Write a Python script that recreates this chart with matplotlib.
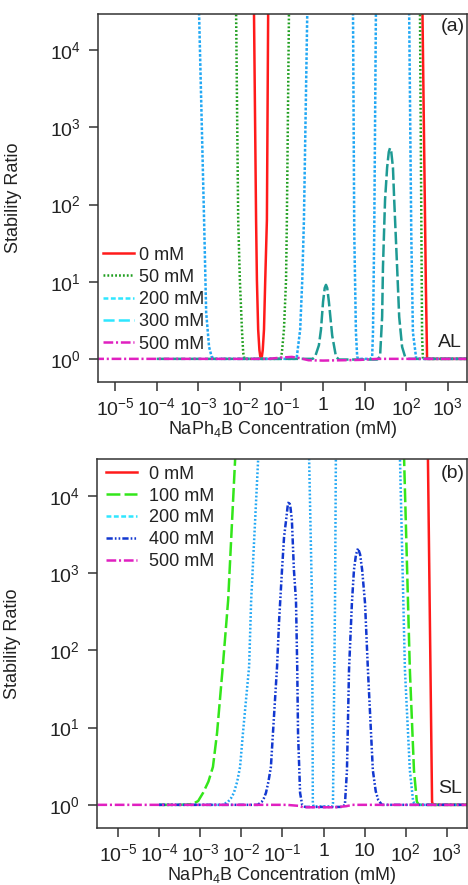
import numpy as np
import matplotlib
matplotlib.use("Agg")
import matplotlib.pyplot as plt
from matplotlib.lines import Line2D

plt.rcParams["font.family"] = ["Liberation Sans", "DejaVu Sans"]
plt.rcParams["mathtext.fontset"] = "custom"
plt.rcParams["mathtext.rm"] = "Liberation Sans"
plt.rcParams["mathtext.it"] = "Liberation Sans:italic"
plt.rcParams["lines.scale_dashes"] = False

# ---- data: log10(concentration, mM) and stability ratio W ----
# panel (a), AL
a_0_logc = [-5.5, -1.69, -1.66, -1.61, -1.59, -1.56, -1.53, -1.51, -1.49, -1.47, -1.45, -1.42, -1.39, -1.35, -1.32, -1.29,
            2.36, 2.39, 2.47, 2.50, 3.5]
a_0_w = [1e6, 1e6, 29500, 63, 10.5, 2.4, 1.3, 1.08, 1.03, 1.08, 1.3, 2.4, 10.5, 63, 29500, 1e6,
         1e6, 29500, 10, 1.0, 1.0]

a_50_logc = [-5.5, -2.12, -2.09, -2.04, -2.0, -1.95, -1.92, -1.89, -1.02, -0.99, -0.94, -0.89, -0.87, -0.82, -0.79,
             2.30, 2.33, 2.38, 2.40, 3.5]
a_50_w = [1e6, 1e6, 29500, 63, 10.5, 2.4, 1.2, 1.0, 1.0, 1.2, 2.4, 10.5, 63, 29500, 1e6,
          1e6, 29500, 2.0, 1.0, 1.0]

a_200_logc = [-5.5, -3.01, -2.98, -2.86, -2.81, -2.74, -2.68, -2.62, -0.66, -0.63, -0.55, -0.50, -0.46, -0.38, -0.35,
              0.70, 0.72, 0.75, 0.79, 0.82, 0.85, 1.15, 1.18, 1.20, 1.23, 1.27, 1.29,
              2.05, 2.07, 2.12, 2.16, 2.24, 3.5]
a_200_w = [1e6, 1e6, 29500, 63, 4.0, 1.43, 1.07, 1.0, 1.0, 1.07, 2.4, 10.5, 63, 29500, 1e6,
           1e6, 29500, 43, 2.2, 1.07, 1.0, 1.0, 1.07, 2.2, 43, 29500, 1e6,
           1e6, 29500, 43, 2.2, 1.0, 1.0]

a_300_logc = [-4.0, -0.25, -0.19, -0.10, -0.05, 0.0, 0.04, 0.07, 0.10, 0.14, 0.18, 0.22, 0.31, 0.38,
              1.30, 1.37, 1.42, 1.44, 1.49, 1.54, 1.58, 1.61, 1.64, 1.68, 1.71, 1.78, 1.83, 1.90, 1.97, 2.05, 3.5]
a_300_w = [1.0, 1.0, 1.07, 1.5, 2.4, 5.5, 8.3, 9.1, 8.3, 5.5, 3.3, 2.0, 1.07, 0.98,
           0.98, 1.07, 3.5, 15.5, 115, 302, 480, 540, 480, 302, 115, 15.5, 3.5, 1.43, 1.07, 1.0, 1.0]

a_500_logc = [-5.5, -1.3, -1.0, -0.75, -0.55, -0.35, 0.0, 0.5, 0.9, 1.3, 3.5]
a_500_w = [1.0, 1.0, 1.04, 1.06, 1.02, 0.96, 0.95, 0.96, 0.97, 1.0, 1.0]

# panel (b), SL
b_0_logc = [-5.5, 2.50, 2.54, 2.64, 2.66, 3.5]
b_0_w = [1e6, 1e6, 30000, 1.1, 1.0, 1.0]

b_100_logc = [-4.0, -3.5, -3.3, -3.18, -3.05, -2.93, -2.80, -2.69, -2.59, -2.45, -2.32, -2.15, -2.05,
              1.90, 1.96, 2.10, 2.20, 2.27, 2.32, 3.5]
b_100_w = [1.0, 1.0, 1.01, 1.03, 1.12, 1.43, 2.0, 3.1, 8.5, 62, 447, 30000, 1e6,
           1e6, 30000, 56, 2.8, 1.1, 1.0, 1.0]

b_200_logc = [-4.0, -2.45, -2.32, -2.25, -2.18, -2.10, -2.03, -1.96, -1.81, -1.76, -1.59, -1.50,
              -0.38, -0.35, -0.28, -0.26, -0.24, 0.21, 0.23, 0.28, 0.30, 0.33,
              1.82, 1.86, 1.98, 2.10, 2.18, 2.24, 3.5]
b_200_w = [1.0, 1.0, 1.1, 1.22, 1.43, 2.0, 3.1, 8.5, 62, 447, 30000, 1e6,
           1e6, 30000, 447, 1.05, 0.95, 0.95, 1.05, 447, 30000, 1e6,
           1e6, 30000, 56, 2.8, 1.1, 1.0, 1.0]

b_400_logc = [-4.0, -1.6, -1.50, -1.45, -1.40, -1.34, -1.28, -1.23, -1.13, -1.08, -1.01, -0.96, -0.91, -0.87, -0.84,
              -0.81, -0.77, -0.72, -0.67, -0.64, -0.62, -0.57, -0.52, -0.45,
              0.45, 0.52, 0.57, 0.62, 0.69, 0.74, 0.79, 0.84, 0.89, 0.94, 1.01, 1.08, 1.20, 1.27, 1.33, 1.42, 3.5]
b_400_w = [1.0, 1.0, 1.1, 1.22, 1.43, 2.0, 3.1, 8.5, 62, 247, 1100, 2950, 4900, 7600, 8500,
           7600, 4900, 1100, 447, 62, 8.5, 1.43, 1.0, 0.94,
           0.94, 1.0, 2.8, 56, 407, 1100, 1750, 2100, 1750, 1100, 407, 56, 2.8, 1.5, 1.16, 1.0, 1.0]

b_500_logc = [-5.5, -0.9, -0.6, -0.5, 0.3, 0.55, 0.7, 3.5]
b_500_w = [1.0, 1.0, 0.97, 0.93, 0.93, 0.96, 1.0, 1.0]

x_ticks = [1e-5, 1e-4, 1e-3, 1e-2, 1e-1, 1, 10, 1e2, 1e3]
x_ticklabels = [r"$\mathregular{10^{-5}}$", r"$\mathregular{10^{-4}}$", r"$\mathregular{10^{-3}}$",
                r"$\mathregular{10^{-2}}$", r"$\mathregular{10^{-1}}$", "1", "10",
                r"$\mathregular{10^{2}}$", r"$\mathregular{10^{3}}$"]
y_ticks = [1, 10, 100, 1000, 10000]
y_ticklabels = [r"$\mathregular{10^{%d}}$" % i for i in range(5)]

RED = "#ff1a1a"
GREEN_DOT = "#1e9e1e"
SKY = "#22a8f4"
CYAN = "#2ee6ff"
TEAL = "#1e9a94"
MAGENTA = "#e020c0"
LIME = "#33e61a"
BLUE = "#1238d0"

LW = 1.8
SOLID = "-"
DOT = (0, (1.3, 1.5))
SHORTDASH = (0, (2.0, 1.3))
LONGDASH = (0, (9.0, 2.6))
LONGDASH_B = (0, (10.0, 3.0))
DASHDOT = (0, (7.0, 2.0, 1.5, 2.0))
DASHDOTDOT = (0, (4.5, 1.5, 1.2, 1.5, 1.2, 1.5))

fig = plt.figure(figsize=(4.68, 8.85), dpi=100)
ax_a = fig.add_axes([98 / 468, 1 - 382 / 885, 369 / 468, 368 / 885])
ax_b = fig.add_axes([97 / 468, 1 - 828 / 885, 370 / 468, 369 / 885])


def to_c(logc):
    return 10 ** np.array(logc)


ax_a.plot(to_c(a_0_logc), a_0_w, color=RED, lw=LW, ls=SOLID)
ax_a.plot(to_c(a_50_logc), a_50_w, color=GREEN_DOT, lw=LW, ls=DOT)
ax_a.plot(to_c(a_200_logc), a_200_w, color=SKY, lw=LW, ls=SHORTDASH)
ax_a.plot(to_c(a_300_logc), a_300_w, color=TEAL, lw=LW, ls=LONGDASH)
ax_a.plot(to_c(a_500_logc), a_500_w, color=MAGENTA, lw=LW, ls=DASHDOT)

ax_b.plot(to_c(b_0_logc), b_0_w, color=RED, lw=LW, ls=SOLID)
ax_b.plot(to_c(b_100_logc), b_100_w, color=LIME, lw=LW, ls=LONGDASH_B)
ax_b.plot(to_c(b_200_logc), b_200_w, color=SKY, lw=LW, ls=DOT)
ax_b.plot(to_c(b_400_logc), b_400_w, color=BLUE, lw=LW, ls=DASHDOTDOT)
ax_b.plot(to_c(b_500_logc), b_500_w, color=MAGENTA, lw=LW, ls=DASHDOT)

limits = {ax_a: ((-5.41, 3.46), (-0.30, 4.47)), ax_b: ((-5.51, 3.49), (-0.30, 4.48))}
for ax, (xl, yl) in limits.items():
    ax.set_xscale("log")
    ax.set_yscale("log")
    ax.set_xlim(10 ** xl[0], 10 ** xl[1])
    ax.set_ylim(10 ** yl[0], 10 ** yl[1])
    ax.set_xticks(x_ticks)
    ax.set_xticklabels(x_ticklabels)
    ax.set_yticks(y_ticks)
    ax.set_yticklabels(y_ticklabels)
    ax.minorticks_off()
    ax.tick_params(axis="both", direction="out", length=6.5, width=1.1, color="#333333",
                   labelsize=14, labelcolor="#222222")
    ax.tick_params(axis="x", pad=4.5)
    ax.tick_params(axis="y", pad=6)
    for sp in ax.spines.values():
        sp.set_linewidth(1.1)
        sp.set_color("#333333")
    ax.set_xlabel(r"NaPh$_\mathregular{4}$B Concentration (mM)", fontsize=13, color="#222222", labelpad=0)
    ax.set_ylabel("Stability Ratio", fontsize=13, color="#222222")
    ax.yaxis.set_label_coords(-0.206, 0.5)

ax_a.text(0.995, 0.965, "(a)", transform=ax_a.transAxes, ha="right", va="center", fontsize=14, color="#222222")
ax_a.text(0.986, 0.106, "AL", transform=ax_a.transAxes, ha="right", va="center", fontsize=14, color="#222222")
ax_b.text(0.995, 0.962, "(b)", transform=ax_b.transAxes, ha="right", va="center", fontsize=14, color="#222222")
ax_b.text(0.986, 0.108, "SL", transform=ax_b.transAxes, ha="right", va="center", fontsize=14, color="#222222")

leg_a = [Line2D([], [], color=RED, lw=LW, ls=SOLID),
         Line2D([], [], color=GREEN_DOT, lw=LW, ls=DOT),
         Line2D([], [], color=CYAN, lw=LW, ls=(0, (3.5, 1.8))),
         Line2D([], [], color=CYAN, lw=LW, ls=(0, (8.0, 3.0))),
         Line2D([], [], color=MAGENTA, lw=LW, ls=DASHDOT)]
ax_a.legend(leg_a, ["0 mM", "50 mM", "200 mM", "300 mM", "500 mM"], loc="upper left",
            bbox_to_anchor=(0.0135, 0.368), frameon=False, fontsize=13, handlelength=1.7,
            handletextpad=0.3, labelspacing=0.29, borderpad=0, borderaxespad=0, labelcolor="#222222")

leg_b = [Line2D([], [], color=RED, lw=LW, ls=SOLID),
         Line2D([], [], color=LIME, lw=LW, ls=LONGDASH_B),
         Line2D([], [], color=CYAN, lw=LW, ls=(0, (3.5, 1.8))),
         Line2D([], [], color=BLUE, lw=LW, ls=DASHDOTDOT),
         Line2D([], [], color=MAGENTA, lw=LW, ls=DASHDOT)]
ax_b.legend(leg_b, ["0 mM", "100 mM", "200 mM", "400 mM", "500 mM"], loc="upper left",
            bbox_to_anchor=(0.024, 0.982), frameon=False, fontsize=13, handlelength=1.7,
            handletextpad=0.7, labelspacing=0.27, borderpad=0, borderaxespad=0, labelcolor="#222222")

fig.savefig("out.png", dpi=100)
plt.close(fig)
